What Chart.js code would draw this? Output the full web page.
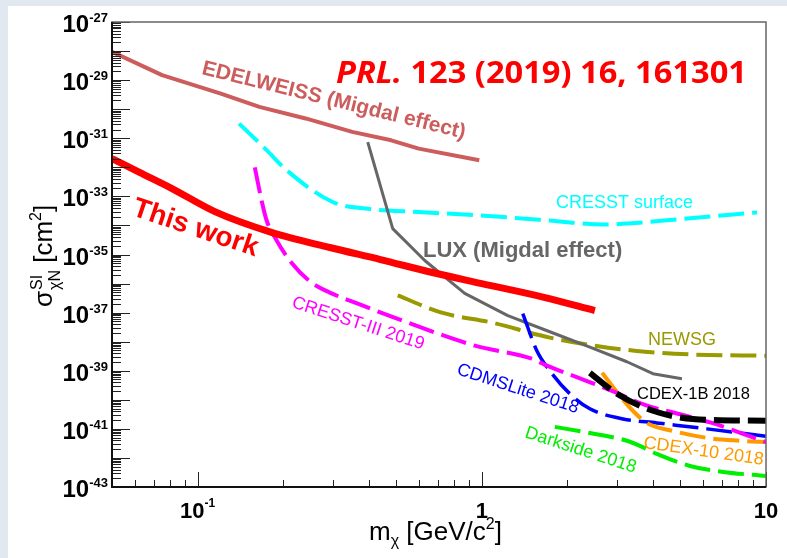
<!DOCTYPE html>
<html>
<head>
<meta charset="utf-8">
<title>Migdal effect limits</title>
<script src="https://cdn.jsdelivr.net/npm/chart.js@4.4.1/dist/chart.umd.min.js"></script>
<style>
    html, body { margin: 0; padding: 0; background: #e2e8f0; }
    canvas { display: block; }
</style>
</head>
<body>
<canvas id="limitChart" width="787" height="558"></canvas>
<script>
// =======================
// DATA (mass in GeV/c^2, cross section in cm^2)
// =======================
const massThisWork = [0.05, 0.0625, 0.081, 0.115, 0.182, 0.292, 0.44, 0.67, 1.0, 1.67, 2.5];
const sigmaThisWork = [2.0e-32, 6.7e-33, 1.9e-33, 3.0e-34, 5.8e-35, 1.74e-35, 6.7e-36, 2.4e-36, 1.0e-36, 3.3e-37, 1.17e-37];

const massEdelweiss = [0.05, 0.075, 0.12, 0.165, 0.24, 0.35, 0.48, 0.6, 0.98];
const sigmaEdelweiss = [9.5e-29, 1.48e-29, 3.5e-30, 1.2e-30, 4.8e-31, 1.66e-31, 8.5e-32, 4.4e-32, 1.74e-32];

const massCresstSurface = [0.14, 0.175, 0.206, 0.3, 0.39, 0.6, 0.98, 1.73, 2.67, 3.27, 4.9, 9.3];
const sigmaCresstSurface = [3.2e-31, 3.9e-32, 7.9e-33, 6.3e-34, 3.8e-34, 2.9e-34, 2.2e-34, 1.48e-34, 1.07e-34, 1.17e-34, 1.62e-34, 2.8e-34];

const massCresst3 = [0.159, 0.168, 0.175, 0.19, 0.214, 0.252, 0.292, 0.366, 0.549, 0.945, 1.5, 1.67, 2.18, 2.87, 3.75, 4.9, 6.45, 10];
const sigmaCresst3 = [1.0e-32, 7.2e-34, 1.48e-34, 3.0e-35, 5.2e-36, 1.07e-36, 4.9e-37, 2.04e-37, 4.55e-38, 7.3e-39, 2.6e-39, 1.6e-39, 5.8e-40, 2.04e-40, 6.7e-41, 3.3e-41, 1.6e-41, 3.5e-42];

const massLux = [0.397, 0.486, 0.63, 0.871, 1.235, 1.735, 2.34, 3.24, 4.0, 5.06];
const sigmaLux = [7.4e-32, 7.8e-35, 6.2e-36, 4.6e-37, 7.9e-38, 2.2e-38, 7.2e-39, 2.04e-39, 7.9e-40, 5.3e-40];

const massNewsg = [0.506, 0.723, 1.084, 1.735, 2.5, 3.75, 5.62, 10];
const sigmaNewsg = [3.9e-37, 1.0e-37, 4.55e-38, 1.38e-38, 7.3e-39, 4.5e-39, 3.6e-39, 3.3e-39];

const massCdmsLite = [1.394, 1.562, 1.735, 2.04, 2.4, 3.14, 4.13, 6.2, 10];
const sigmaCdmsLite = [9.3e-38, 4.9e-39, 1.0e-39, 1.62e-40, 4.9e-41, 2.2e-41, 1.6e-41, 1.0e-41, 5.6e-42];

const massCdex1b = [2.4, 2.99, 4.0, 5.53, 10];
const sigmaCdex1b = [8.5e-40, 1.62e-40, 4.2e-41, 2.2e-41, 1.9e-41];

const massCdex10 = [2.65, 3.06, 3.4, 3.81, 4.7, 6.2, 8.1, 10];
const sigmaCdex10 = [8.5e-40, 1.38e-40, 4.2e-41, 1.6e-41, 8.5e-42, 4.9e-42, 3.9e-42, 3.5e-42];

const massDarkside = [1.807, 2.4, 3.24, 3.6, 4.13, 5.4, 7.06, 10];
const sigmaDarkside = [1.17e-41, 7.2e-42, 3.9e-42, 2.6e-42, 1.38e-42, 5.3e-43, 3.3e-43, 2.4e-43];

// axis ranges and tick labels
const xMin = 0.05, xMax = 10;
const yMin = 1e-43, yMax = 1e-27;
const yLabelExponents = [-27, -29, -31, -33, -35, -37, -39, -41, -43];
const xLabelValues = [0.1, 1, 10];
const xLabelTexts = [["10", "-1"], ["1", ""], ["10", ""]];

const SANS = '"Liberation Sans", Arial, sans-serif';

function points(xs, ys) {
    return xs.map((m, i) => ({ x: m, y: ys[i] }));
}

function curve(label, xs, ys, color, width, dashed, smooth) {
    return {
        label,
        data: points(xs, ys),
        showLine: true,
        borderColor: color,
        backgroundColor: color,
        borderWidth: width,
        borderDash: dashed ? [26, 8] : [],
        borderCapStyle: 'butt',
        borderJoinStyle: 'round',
        cubicInterpolationMode: smooth ? 'monotone' : 'default',
        tension: 0,
        pointRadius: 0,
        fill: false
    };
}

// =======================
// TEXT HELPERS
// =======================
function richWidth(ctx, parts) {
    let w = 0;
    parts.forEach(p => {
        ctx.font = p.font;
        w += ctx.measureText(p.text).width;
    });
    return w;
}

function drawRich(ctx, parts, x, y) {
    let cx = x;
    parts.forEach(p => {
        ctx.font = p.font;
        ctx.fillText(p.text, cx, y + (p.dy || 0));
        cx += ctx.measureText(p.text).width;
    });
}

function drawRotated(ctx, text, font, color, x, y, deg) {
    ctx.save();
    ctx.translate(x, y);
    ctx.rotate(deg * Math.PI / 180);
    ctx.font = font;
    ctx.fillStyle = color;
    ctx.fillText(text, 0, 0);
    ctx.restore();
}

// =======================
// ROOT STYLE FRAME PLUGIN
// =======================
const rootFrame = {
    id: 'rootFrame',
    beforeDraw(chart) {
        const ctx = chart.ctx;
        ctx.save();
        ctx.fillStyle = '#e2e8f0';
        ctx.fillRect(0, 0, chart.width, chart.height);
        ctx.fillStyle = '#ffffff';
        ctx.fillRect(8, 6, chart.width - 8, chart.height - 6);
        ctx.restore();
    },
    afterDatasetsDraw(chart) {
        const { ctx, chartArea: a, scales: { x, y } } = chart;
        ctx.save();
        ctx.strokeStyle = '#222';
        ctx.lineWidth = 1;
        ctx.beginPath();
        // y ticks: decades and 2..9
        for (let e = -43; e <= -27; e++) {
            for (let k = 1; k <= 9; k++) {
                if (e === -27 && k > 1) break;
                const py = Math.round(y.getPixelForValue(k * Math.pow(10, e))) + 0.5;
                const len = k === 1 ? 18 : 9;
                ctx.moveTo(a.left, py);
                ctx.lineTo(a.left + len, py);
            }
        }
        // x ticks
        for (let e = -2; e <= 1; e++) {
            for (let k = 1; k <= 9; k++) {
                const v = k * Math.pow(10, e);
                if (v < xMin * 1.001 || v > xMax * 1.001) continue;
                const px = Math.round(x.getPixelForValue(v)) + 0.5;
                const len = k === 1 ? 15 : 7;
                ctx.moveTo(px, a.bottom);
                ctx.lineTo(px, a.bottom - len);
            }
        }
        ctx.stroke();

        // frame
        ctx.strokeStyle = '#666';
        ctx.lineWidth = 1.5;
        ctx.strokeRect(a.left, a.top, a.right - a.left, a.bottom - a.top);
        ctx.strokeStyle = '#111';
        ctx.lineWidth = 2;
        ctx.beginPath();
        ctx.moveTo(a.left, a.top);
        ctx.lineTo(a.left, a.bottom);
        ctx.lineTo(a.right, a.bottom);
        ctx.stroke();
        ctx.restore();
    },
    afterDraw(chart) {
        const { ctx, scales: { x, y } } = chart;
        ctx.save();
        ctx.fillStyle = '#000';
        ctx.textAlign = 'left';
        ctx.textBaseline = 'alphabetic';

        // y tick labels
        yLabelExponents.forEach(e => {
            const py = y.getPixelForValue(Math.pow(10, e));
            const parts = [
                { text: '10', font: 'bold 24px ' + SANS },
                { text: String(e), font: 'bold 13px ' + SANS, dy: -10 }
            ];
            const w = richWidth(ctx, parts);
            drawRich(ctx, parts, 108 - w, py + 10);
        });

        // x tick labels
        xLabelValues.forEach((v, i) => {
            const px = x.getPixelForValue(v);
            const parts = [{ text: xLabelTexts[i][0], font: 'bold 22px ' + SANS }];
            if (xLabelTexts[i][1]) parts.push({ text: xLabelTexts[i][1], font: 'bold 12px ' + SANS, dy: -11 });
            const w = richWidth(ctx, parts);
            drawRich(ctx, parts, px - w / 2, 518);
        });

        // x title
        drawRich(ctx, [
            { text: 'm', font: '26px ' + SANS },
            { text: 'χ', font: '16px ' + SANS, dy: 6 },
            { text: ' [GeV/c', font: '26px ' + SANS },
            { text: '2', font: '16px ' + SANS, dy: -11 },
            { text: ']', font: '26px ' + SANS }
        ], 369, 540);

        // y title
        ctx.save();
        ctx.translate(52, 307);
        ctx.rotate(-Math.PI / 2);
        ctx.font = '26px ' + SANS;
        ctx.fillText('σ', 0, 0);
        let cx = ctx.measureText('σ').width + 1;
        ctx.font = '16px ' + SANS;
        ctx.fillText('SI', cx, -10);
        ctx.fillText('χN', cx, 8);
        cx += Math.max(ctx.measureText('SI').width, ctx.measureText('χN').width);
        drawRich(ctx, [
            { text: ' [cm', font: '26px ' + SANS },
            { text: '2', font: '16px ' + SANS, dy: -11 },
            { text: ']', font: '26px ' + SANS }
        ], cx, 0);
        ctx.restore();

        // reference title
        ctx.save();
        ctx.fillStyle = '#ff0000';
        const title = [
            { text: 'PRL.', font: 'italic bold 30px "Open Sans", sans-serif' },
            { text: ' 123 (2019) 16, 161301', font: 'bold 30px "Open Sans", sans-serif' }
        ];
        const tw = richWidth(ctx, title);
        ctx.translate(336, 83);
        ctx.scale(411 / tw, 1);
        drawRich(ctx, title, 0, 0);
        ctx.restore();

        // curve labels
        drawRotated(ctx, 'EDELWEISS (Migdal effect)', 'bold 21px ' + SANS, '#cd5c5c', 201, 74, 13.8);
        drawRotated(ctx, 'This work', 'bold 28px ' + SANS, '#ff0000', 131, 215, 18.5);
        drawRotated(ctx, 'CRESST surface', '18px ' + SANS, '#00ffff', 556, 208, 0);
        drawRotated(ctx, 'LUX (Migdal effect)', 'bold 22px ' + SANS, '#666666', 423, 257, 0);
        drawRotated(ctx, 'CRESST-III 2019', '18px ' + SANS, '#ff00ff', 291, 307, 18);
        drawRotated(ctx, 'NEWSG', '18px ' + SANS, '#999900', 648, 345, 0);
        drawRotated(ctx, 'CDMSLite 2018', '18px ' + SANS, '#0000ff', 456, 374, 18);
        drawRotated(ctx, 'CDEX-1B 2018', '16.5px ' + SANS, '#000000', 637, 399, 0);
        drawRotated(ctx, 'CDEX-10 2018', '18px ' + SANS, '#ff9900', 643, 448, 8);
        drawRotated(ctx, 'Darkside 2018', '18px ' + SANS, '#00ee00', 524, 437, 18);
        ctx.restore();
    }
};

// =======================
// CHART
// =======================
const ctx = document.getElementById('limitChart').getContext('2d');

new Chart(ctx, {
    type: 'scatter',
    data: {
        datasets: [
            curve('This work', massThisWork, sigmaThisWork, '#ff0000', 7, false, true),
            curve('CDEX-1B 2018', massCdex1b, sigmaCdex1b, '#000000', 6, true, true),
            curve('CRESST-III 2019', massCresst3, sigmaCresst3, '#ff00ff', 4, true, true),
            curve('CDEX-10 2018', massCdex10, sigmaCdex10, '#ff9900', 4, true, true),
            curve('CDMSLite 2018', massCdmsLite, sigmaCdmsLite, '#0000ff', 3.5, true, true),
            curve('Darkside 2018', massDarkside, sigmaDarkside, '#00ee00', 4, true, true),
            curve('LUX (Migdal effect)', massLux, sigmaLux, '#666666', 3, false, false),
            curve('NEWSG', massNewsg, sigmaNewsg, '#999900', 4, true, true),
            curve('CRESST surface', massCresstSurface, sigmaCresstSurface, '#00ffff', 4, true, true),
            curve('EDELWEISS (Migdal effect)', massEdelweiss, sigmaEdelweiss, '#cd5c5c', 4, false, false)
        ]
    },
    options: {
        responsive: false,
        animation: false,
        layout: { padding: { left: 112, top: 22, right: 21, bottom: 71 } },
        plugins: {
            legend: { display: false },
            tooltip: { enabled: false }
        },
        scales: {
            x: { type: 'logarithmic', min: xMin, max: xMax, display: false },
            y: { type: 'logarithmic', min: yMin, max: yMax, display: false }
        }
    },
    plugins: [rootFrame]
});
</script>
</body>
</html>
